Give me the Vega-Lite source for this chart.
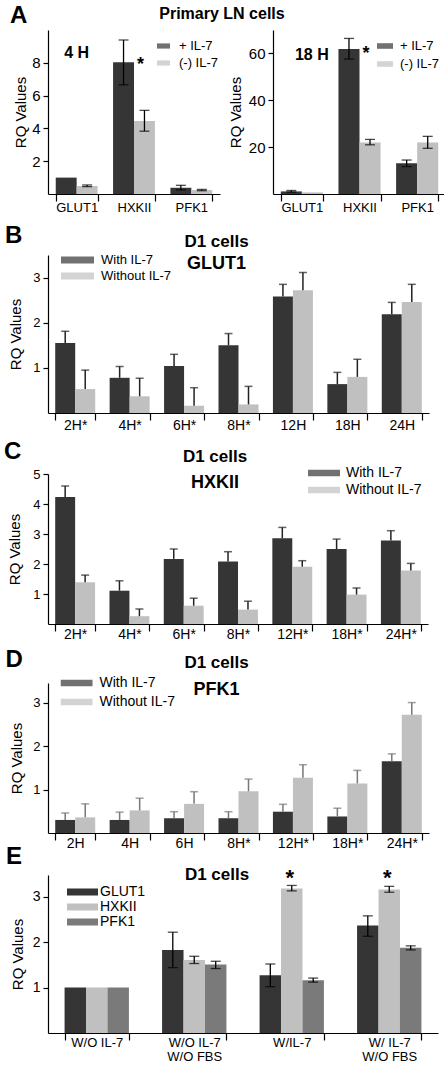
{
  "padding": {"left": 3, "top": 3, "right": 0, "bottom": 0},
  "spacing": 9,
  "align": "none",
  "resolve": {"scale": {"color": "independent", "xOffset": "independent"}, "legend": {"color": "independent"}},
  "config": {
    "font": "Liberation Sans",
    "view": {"stroke": null},
    "bar": {"stroke": null},
    "axis": {"grid": false, "labelOverlap": false, "domainColor": "black", "tickColor": "black", "labelColor": "black", "titleColor": "black", "labelFont": "Liberation Sans", "titleFont": "Liberation Sans", "titleFontWeight": "normal", "titleFontSize": 15, "labelFontSize": 13, "domainWidth": 1.2, "tickWidth": 1.2},
    "axisX": {"tickBand": "extent", "labelAngle": 0, "tickSize": 7},
    "axisY": {"tickSize": 5, "labelPadding": 3},
    "legend": {"labelFont": "Liberation Sans", "labelColor": "black", "padding": 0, "symbolStrokeWidth": 0, "labelFontSize": 13},
    "title": {"font": "Liberation Sans", "fontWeight": "bold", "color": "black", "fontSize": 17, "subtitleFont": "Liberation Sans", "subtitleFontWeight": "bold", "subtitleColor": "black", "subtitleFontSize": 18}
  },
  "datasets": {
    "a4": [
      {"gene": "GLUT1", "treat": "+ IL-7", "v": 1.0},
      {"gene": "GLUT1", "treat": "(-) IL-7", "v": 0.49, "lo": 0.45, "hi": 0.55},
      {"gene": "HXKII", "treat": "+ IL-7", "v": 8.04, "lo": 6.66, "hi": 9.39},
      {"gene": "HXKII", "treat": "(-) IL-7", "v": 4.45, "lo": 3.83, "hi": 5.1},
      {"gene": "PFK1", "treat": "+ IL-7", "v": 0.38, "lo": 0.25, "hi": 0.53},
      {"gene": "PFK1", "treat": "(-) IL-7", "v": 0.24, "lo": 0.2, "hi": 0.28}
    ],
    "a4notes": [
      {"gene": "HXKII", "treat": "(-) IL-7", "y": 8.44, "label": "*"}
    ],
    "a4time": [
      {"gene": "GLUT1", "y": 8.29, "label": "4 H"}
    ],
    "a18": [
      {"gene": "GLUT1", "treat": "+ IL-7", "v": 1.1, "lo": 0.8, "hi": 1.5},
      {"gene": "GLUT1", "treat": "(-) IL-7", "v": 0.7},
      {"gene": "HXKII", "treat": "+ IL-7", "v": 61.9, "lo": 57.6, "hi": 66.4},
      {"gene": "HXKII", "treat": "(-) IL-7", "v": 22.0, "lo": 21.0, "hi": 23.3},
      {"gene": "PFK1", "treat": "+ IL-7", "v": 13.1, "lo": 11.7, "hi": 14.5},
      {"gene": "PFK1", "treat": "(-) IL-7", "v": 22.0, "lo": 19.5, "hi": 24.6}
    ],
    "a18notes": [
      {"gene": "HXKII", "treat": "(-) IL-7", "y": 63.4, "label": "*"}
    ],
    "a18time": [
      {"gene": "GLUT1", "y": 57.2, "label": "18 H"}
    ],
    "b": [
      {"time": "2H*", "treat": "With IL-7", "v": 1.55, "hi": 1.81},
      {"time": "2H*", "treat": "Without IL-7", "v": 0.53, "hi": 0.95},
      {"time": "4H*", "treat": "With IL-7", "v": 0.78, "hi": 1.03},
      {"time": "4H*", "treat": "Without IL-7", "v": 0.37, "hi": 0.77},
      {"time": "6H*", "treat": "With IL-7", "v": 1.04, "hi": 1.3},
      {"time": "6H*", "treat": "Without IL-7", "v": 0.16, "hi": 0.56},
      {"time": "8H*", "treat": "With IL-7", "v": 1.5, "hi": 1.76},
      {"time": "8H*", "treat": "Without IL-7", "v": 0.19, "hi": 0.59},
      {"time": "12H", "treat": "With IL-7", "v": 2.58, "hi": 2.85},
      {"time": "12H", "treat": "Without IL-7", "v": 2.72, "hi": 3.11},
      {"time": "18H", "treat": "With IL-7", "v": 0.64, "hi": 0.9},
      {"time": "18H", "treat": "Without IL-7", "v": 0.8, "hi": 1.19},
      {"time": "24H", "treat": "With IL-7", "v": 2.19, "hi": 2.45},
      {"time": "24H", "treat": "Without IL-7", "v": 2.46, "hi": 2.85}
    ],
    "c": [
      {"time": "2H*", "treat": "With IL-7", "v": 4.23, "hi": 4.6},
      {"time": "2H*", "treat": "Without IL-7", "v": 1.39, "hi": 1.63},
      {"time": "4H*", "treat": "With IL-7", "v": 1.11, "hi": 1.44},
      {"time": "4H*", "treat": "Without IL-7", "v": 0.26, "hi": 0.5},
      {"time": "6H*", "treat": "With IL-7", "v": 2.17, "hi": 2.5},
      {"time": "6H*", "treat": "Without IL-7", "v": 0.61, "hi": 0.86},
      {"time": "8H*", "treat": "With IL-7", "v": 2.08, "hi": 2.41},
      {"time": "8H*", "treat": "Without IL-7", "v": 0.48, "hi": 0.76},
      {"time": "12H*", "treat": "With IL-7", "v": 2.86, "hi": 3.22},
      {"time": "12H*", "treat": "Without IL-7", "v": 1.91, "hi": 2.11},
      {"time": "18H*", "treat": "With IL-7", "v": 2.5, "hi": 2.83},
      {"time": "18H*", "treat": "Without IL-7", "v": 0.98, "hi": 1.2},
      {"time": "24H*", "treat": "With IL-7", "v": 2.78, "hi": 3.11},
      {"time": "24H*", "treat": "Without IL-7", "v": 1.78, "hi": 2.02}
    ],
    "d": [
      {"time": "2H", "treat": "With IL-7", "v": 0.3, "hi": 0.46},
      {"time": "2H", "treat": "Without IL-7", "v": 0.36, "hi": 0.67},
      {"time": "4H", "treat": "With IL-7", "v": 0.3, "hi": 0.48},
      {"time": "4H", "treat": "Without IL-7", "v": 0.52, "hi": 0.8},
      {"time": "6H", "treat": "With IL-7", "v": 0.34, "hi": 0.49},
      {"time": "6H", "treat": "Without IL-7", "v": 0.67, "hi": 0.95},
      {"time": "8H*", "treat": "With IL-7", "v": 0.34, "hi": 0.49},
      {"time": "8H*", "treat": "Without IL-7", "v": 0.96, "hi": 1.24},
      {"time": "12H*", "treat": "With IL-7", "v": 0.49, "hi": 0.66},
      {"time": "12H*", "treat": "Without IL-7", "v": 1.27, "hi": 1.57},
      {"time": "18H*", "treat": "With IL-7", "v": 0.38, "hi": 0.57},
      {"time": "18H*", "treat": "Without IL-7", "v": 1.14, "hi": 1.44},
      {"time": "24H*", "treat": "With IL-7", "v": 1.65, "hi": 1.82},
      {"time": "24H*", "treat": "Without IL-7", "v": 2.72, "hi": 3.0}
    ],
    "e": [
      {"cond": "W/O IL-7", "gene": "GLUT1", "v": 1.0},
      {"cond": "W/O IL-7", "gene": "HXKII", "v": 1.0},
      {"cond": "W/O IL-7", "gene": "PFK1", "v": 1.0},
      {"cond": "W/O IL-7\nW/O FBS", "gene": "GLUT1", "v": 1.83, "lo": 1.44, "hi": 2.22},
      {"cond": "W/O IL-7\nW/O FBS", "gene": "HXKII", "v": 1.61, "lo": 1.53, "hi": 1.69},
      {"cond": "W/O IL-7\nW/O FBS", "gene": "PFK1", "v": 1.51, "lo": 1.42, "hi": 1.58},
      {"cond": "W/IL-7", "gene": "GLUT1", "v": 1.27, "lo": 1.02, "hi": 1.52},
      {"cond": "W/IL-7", "gene": "HXKII", "v": 3.18, "lo": 3.13, "hi": 3.25},
      {"cond": "W/IL-7", "gene": "PFK1", "v": 1.16, "lo": 1.12, "hi": 1.21},
      {"cond": "W/ IL-7\nW/O FBS", "gene": "GLUT1", "v": 2.37, "lo": 2.13, "hi": 2.58},
      {"cond": "W/ IL-7\nW/O FBS", "gene": "HXKII", "v": 3.16, "lo": 3.1, "hi": 3.23},
      {"cond": "W/ IL-7\nW/O FBS", "gene": "PFK1", "v": 1.88, "lo": 1.83, "hi": 1.92}
    ],
    "enotes": [
      {"cond": "W/IL-7", "gene": "HXKII", "y": 3.63, "label": "*"},
      {"cond": "W/ IL-7\nW/O FBS", "gene": "HXKII", "y": 3.63, "label": "*"}
    ]
  },
  "vconcat": [
    {
      "title": {"text": "A", "anchor": "start", "frame": "bounds", "fontSize": 24, "offset": 0, "dx": -4, "dy": 21.6},
      "align": "none",
      "resolve": {"scale": {"color": "independent", "xOffset": "independent"}, "legend": {"color": "independent"}},
      "vconcat": [
        {
          "title": {"text": "Primary LN cells", "anchor": "middle", "frame": "bounds", "fontSize": 16, "offset": 8, "dx": -8},
          "spacing": 8,
          "resolve": {"scale": {"color": "independent", "xOffset": "independent"}, "legend": {"color": "independent"}},
          "hconcat": [
            {
              "width": 172, "height": 164,
              "layer": [
                {
                  "data": {"name": "a4"},
                  "mark": {"type": "bar"},
                  "encoding": {
                    "x": {"field": "gene", "type": "nominal", "sort": ["GLUT1", "HXKII", "PFK1"], "title": null, "scale": {"paddingInner": 0.27, "paddingOuter": 0.135}, "axis": {"labelFontSize": 13, "labelPadding": 0}},
                    "xOffset": {"field": "treat", "type": "nominal", "sort": ["+ IL-7", "(-) IL-7"]},
                    "y": {"field": "v", "type": "quantitative", "title": "RQ Values", "scale": {"domain": [0, 10], "nice": false}, "axis": {"values": [2, 4, 6, 8], "labelFontSize": 15, "titlePadding": 2.7}},
                    "color": {"field": "treat", "type": "nominal", "scale": {"domain": ["+ IL-7", "(-) IL-7"], "range": ["#353535", "#c0c0c0"]}, "legend": {"orient": "none", "legendX": 109, "legendY": 10, "title": null, "symbolType": "M-1,-0.4H1V0.4H-1Z", "symbolSize": 169, "clipHeight": 12, "rowPadding": 4, "labelOffset": 9, "labelFontSize": 13, "symbolOpacity": 0.7}}
                  }
                },
                {
                  "data": {"name": "a4"},
                  "mark": {"type": "rule", "color": "black", "strokeWidth": 1.3},
                  "encoding": {
                    "x": {"field": "gene", "type": "nominal", "sort": ["GLUT1", "HXKII", "PFK1"], "title": null},
                    "xOffset": {"field": "treat", "type": "nominal", "sort": ["+ IL-7", "(-) IL-7"]},
                    "y": {"field": "lo", "type": "quantitative", "title": "RQ Values"},
                    "y2": {"field": "hi"}
                  }
                },
                {
                  "data": {"name": "a4"},
                  "mark": {"type": "tick", "color": "black", "size": 10, "thickness": 1.3},
                  "encoding": {
                    "x": {"field": "gene", "type": "nominal", "sort": ["GLUT1", "HXKII", "PFK1"], "title": null},
                    "xOffset": {"field": "treat", "type": "nominal", "sort": ["+ IL-7", "(-) IL-7"]},
                    "y": {"field": "hi", "type": "quantitative", "title": "RQ Values"}
                  }
                },
                {
                  "data": {"name": "a4"},
                  "mark": {"type": "tick", "color": "black", "size": 10, "thickness": 1.3},
                  "encoding": {
                    "x": {"field": "gene", "type": "nominal", "sort": ["GLUT1", "HXKII", "PFK1"], "title": null},
                    "xOffset": {"field": "treat", "type": "nominal", "sort": ["+ IL-7", "(-) IL-7"]},
                    "y": {"field": "lo", "type": "quantitative", "title": "RQ Values"}
                  }
                },
                {
                  "data": {"name": "a4notes"},
                  "mark": {"type": "text", "fontSize": 18, "fontWeight": "bold", "baseline": "top", "align": "center", "dx": -4, "color": "black"},
                  "encoding": {
                    "x": {"field": "gene", "type": "nominal", "sort": ["GLUT1", "HXKII", "PFK1"], "title": null},
                    "xOffset": {"field": "treat", "type": "nominal", "sort": ["+ IL-7", "(-) IL-7"]},
                    "y": {"field": "y", "type": "quantitative", "title": "RQ Values"},
                    "text": {"field": "label"}
                  }
                },
                {
                  "data": {"name": "a4time"},
                  "mark": {"type": "text", "fontSize": 16, "fontWeight": "bold", "baseline": "alphabetic", "align": "center", "color": "black"},
                  "encoding": {
                    "x": {"field": "gene", "type": "nominal", "sort": ["GLUT1", "HXKII", "PFK1"], "title": null},
                    "y": {"field": "y", "type": "quantitative", "title": "RQ Values"},
                    "text": {"field": "label"}
                  }
                }
              ]
            },
            {
              "width": 173, "height": 164,
              "layer": [
                {
                  "data": {"name": "a18"},
                  "mark": {"type": "bar"},
                  "encoding": {
                    "x": {"field": "gene", "type": "nominal", "sort": ["GLUT1", "HXKII", "PFK1"], "title": null, "scale": {"paddingInner": 0.27, "paddingOuter": 0.135}, "axis": {"labelFontSize": 13, "labelPadding": 0}},
                    "xOffset": {"field": "treat", "type": "nominal", "sort": ["+ IL-7", "(-) IL-7"]},
                    "y": {"field": "v", "type": "quantitative", "title": "RQ Values", "scale": {"domain": [0, 70], "nice": false}, "axis": {"values": [20, 40, 60], "labelFontSize": 15, "titlePadding": 5}},
                    "color": {"field": "treat", "type": "nominal", "scale": {"domain": ["+ IL-7", "(-) IL-7"], "range": ["#353535", "#c0c0c0"]}, "legend": {"orient": "none", "legendX": 104, "legendY": 10, "title": null, "symbolType": "M-1,-0.35H1V0.35H-1Z", "symbolSize": 256, "clipHeight": 12, "rowPadding": 5, "labelOffset": 7, "labelFontSize": 13, "symbolOpacity": 0.7}}
                  }
                },
                {
                  "data": {"name": "a18"},
                  "mark": {"type": "rule", "color": "black", "strokeWidth": 1.3},
                  "encoding": {
                    "x": {"field": "gene", "type": "nominal", "sort": ["GLUT1", "HXKII", "PFK1"], "title": null},
                    "xOffset": {"field": "treat", "type": "nominal", "sort": ["+ IL-7", "(-) IL-7"]},
                    "y": {"field": "lo", "type": "quantitative", "title": "RQ Values"},
                    "y2": {"field": "hi"}
                  }
                },
                {
                  "data": {"name": "a18"},
                  "mark": {"type": "tick", "color": "black", "size": 10, "thickness": 1.3},
                  "encoding": {
                    "x": {"field": "gene", "type": "nominal", "sort": ["GLUT1", "HXKII", "PFK1"], "title": null},
                    "xOffset": {"field": "treat", "type": "nominal", "sort": ["+ IL-7", "(-) IL-7"]},
                    "y": {"field": "hi", "type": "quantitative", "title": "RQ Values"}
                  }
                },
                {
                  "data": {"name": "a18"},
                  "mark": {"type": "tick", "color": "black", "size": 10, "thickness": 1.3},
                  "encoding": {
                    "x": {"field": "gene", "type": "nominal", "sort": ["GLUT1", "HXKII", "PFK1"], "title": null},
                    "xOffset": {"field": "treat", "type": "nominal", "sort": ["+ IL-7", "(-) IL-7"]},
                    "y": {"field": "lo", "type": "quantitative", "title": "RQ Values"}
                  }
                },
                {
                  "data": {"name": "a18notes"},
                  "mark": {"type": "text", "fontSize": 18, "fontWeight": "bold", "baseline": "top", "align": "center", "dx": -4, "color": "black"},
                  "encoding": {
                    "x": {"field": "gene", "type": "nominal", "sort": ["GLUT1", "HXKII", "PFK1"], "title": null},
                    "xOffset": {"field": "treat", "type": "nominal", "sort": ["+ IL-7", "(-) IL-7"]},
                    "y": {"field": "y", "type": "quantitative", "title": "RQ Values"},
                    "text": {"field": "label"}
                  }
                },
                {
                  "data": {"name": "a18time"},
                  "mark": {"type": "text", "fontSize": 16, "fontWeight": "bold", "baseline": "alphabetic", "align": "center", "dx": 10, "color": "black"},
                  "encoding": {
                    "x": {"field": "gene", "type": "nominal", "sort": ["GLUT1", "HXKII", "PFK1"], "title": null},
                    "y": {"field": "y", "type": "quantitative", "title": "RQ Values"},
                    "text": {"field": "label"}
                  }
                }
              ]
            }
          ]
        }
      ]
    },
    {
      "spacing": 7,
      "align": "none",
      "resolve": {"scale": {"color": "independent", "xOffset": "independent"}, "legend": {"color": "independent"}},
      "vconcat": [
        {
          "title": {"text": "B", "anchor": "start", "frame": "bounds", "fontSize": 24, "offset": 0, "dx": -4, "dy": 15},
          "align": "none",
          "resolve": {"scale": {"color": "independent", "xOffset": "independent"}, "legend": {"color": "independent"}},
          "vconcat": [
            {
              "width": 381, "height": 158,
              "title": {"text": "D1 cells", "subtitle": "GLUT1", "frame": "group", "anchor": "middle", "dx": -22, "offset": -20.1, "subtitlePadding": 4},
              "data": {"name": "b"},
              "layer": [
                {
                  "mark": {"type": "bar"},
                  "encoding": {
                    "x": {"field": "time", "type": "nominal", "sort": ["2H*", "4H*", "6H*", "8H*", "12H", "18H", "24H"], "title": null, "scale": {"paddingInner": 0.265, "paddingOuter": 0.1325}, "axis": {"labelPadding": -2, "labelFontSize": 14}},
                    "xOffset": {"field": "treat", "type": "nominal", "sort": ["With IL-7", "Without IL-7"]},
                    "y": {"field": "v", "type": "quantitative", "title": "RQ Values", "scale": {"domain": [0, 3.5], "nice": false}, "axis": {"values": [1, 2, 3], "titlePadding": 8.8}},
                    "color": {"field": "treat", "type": "nominal", "scale": {"domain": ["With IL-7", "Without IL-7"], "range": ["#353535", "#c0c0c0"]}, "legend": {"orient": "none", "legendX": 13, "legendY": -1.5, "title": null, "symbolType": "M-1,-0.21H1V0.21H-1Z", "symbolSize": 1089, "clipHeight": 13, "rowPadding": 2, "labelOffset": 7, "labelFontSize": 13, "symbolOpacity": 0.7}}
                  }
                },
                {
                  "mark": {"type": "rule", "color": "#222222", "strokeWidth": 1.5},
                  "encoding": {
                    "x": {"field": "time", "type": "nominal", "sort": ["2H*", "4H*", "6H*", "8H*", "12H", "18H", "24H"], "title": null},
                    "xOffset": {"field": "treat", "type": "nominal", "sort": ["With IL-7", "Without IL-7"]},
                    "y": {"field": "v", "type": "quantitative", "title": "RQ Values"},
                    "y2": {"field": "hi"}
                  }
                },
                {
                  "mark": {"type": "tick", "color": "#222222", "size": 8, "thickness": 1.5},
                  "encoding": {
                    "x": {"field": "time", "type": "nominal", "sort": ["2H*", "4H*", "6H*", "8H*", "12H", "18H", "24H"], "title": null},
                    "xOffset": {"field": "treat", "type": "nominal", "sort": ["With IL-7", "Without IL-7"]},
                    "y": {"field": "hi", "type": "quantitative", "title": "RQ Values"}
                  }
                }
              ]
            }
          ]
        },
        {
          "spacing": 6,
          "align": "none",
          "resolve": {"scale": {"color": "independent", "xOffset": "independent"}, "legend": {"color": "independent"}},
          "vconcat": [
            {
              "title": {"text": "C", "anchor": "start", "frame": "bounds", "fontSize": 24, "offset": 0, "dx": -4, "dy": 16.1},
              "align": "none",
              "resolve": {"scale": {"color": "independent", "xOffset": "independent"}, "legend": {"color": "independent"}},
              "vconcat": [
                {
                  "width": 380, "height": 150,
                  "title": {"text": "D1 cells", "subtitle": "HXKII", "frame": "group", "anchor": "middle", "dx": -23, "offset": -26.1, "subtitlePadding": 8},
                  "data": {"name": "c"},
                  "layer": [
                    {
                      "mark": {"type": "bar"},
                      "encoding": {
                        "x": {"field": "time", "type": "nominal", "sort": ["2H*", "4H*", "6H*", "8H*", "12H*", "18H*", "24H*"], "title": null, "scale": {"paddingInner": 0.265, "paddingOuter": 0.1325}, "axis": {"labelPadding": -4, "labelFontSize": 14}},
                        "xOffset": {"field": "treat", "type": "nominal", "sort": ["With IL-7", "Without IL-7"]},
                        "y": {"field": "v", "type": "quantitative", "title": "RQ Values", "scale": {"domain": [0, 5], "nice": false}, "axis": {"values": [1, 2, 3, 4, 5], "tickCount": 8, "format": "d", "titlePadding": 9.8}},
                        "color": {"field": "treat", "type": "nominal", "scale": {"domain": ["With IL-7", "Without IL-7"], "range": ["#353535", "#c0c0c0"]}, "legend": {"orient": "none", "legendX": 260, "legendY": -7.5, "title": null, "symbolType": "M-1,-0.21H1V0.21H-1Z", "symbolSize": 1024, "clipHeight": 13, "rowPadding": 2, "labelOffset": 6, "labelFontSize": 14, "symbolOpacity": 0.7}}
                      }
                    },
                    {
                      "mark": {"type": "rule", "color": "#222222", "strokeWidth": 1.5},
                      "encoding": {
                        "x": {"field": "time", "type": "nominal", "sort": ["2H*", "4H*", "6H*", "8H*", "12H*", "18H*", "24H*"], "title": null},
                        "xOffset": {"field": "treat", "type": "nominal", "sort": ["With IL-7", "Without IL-7"]},
                        "y": {"field": "v", "type": "quantitative", "title": "RQ Values"},
                        "y2": {"field": "hi"}
                      }
                    },
                    {
                      "mark": {"type": "tick", "color": "#222222", "size": 8, "thickness": 1.5},
                      "encoding": {
                        "x": {"field": "time", "type": "nominal", "sort": ["2H*", "4H*", "6H*", "8H*", "12H*", "18H*", "24H*"], "title": null},
                        "xOffset": {"field": "treat", "type": "nominal", "sort": ["With IL-7", "Without IL-7"]},
                        "y": {"field": "hi", "type": "quantitative", "title": "RQ Values"}
                      }
                    }
                  ]
                }
              ]
            },
            {
              "spacing": -6,
              "align": "none",
              "resolve": {"scale": {"color": "independent", "xOffset": "independent"}, "legend": {"color": "independent"}},
              "vconcat": [
                {
                  "title": {"text": "D", "anchor": "start", "frame": "bounds", "fontSize": 24, "offset": 0, "dx": -4, "dy": 18.1},
                  "align": "none",
                  "resolve": {"scale": {"color": "independent", "xOffset": "independent"}, "legend": {"color": "independent"}},
                  "vconcat": [
                    {
                      "width": 381, "height": 150,
                      "title": {"text": "D1 cells", "subtitle": "PFK1", "frame": "group", "anchor": "middle", "dx": -22, "offset": -23.1, "subtitlePadding": 9},
                      "data": {"name": "d"},
                      "layer": [
                        {
                          "mark": {"type": "bar"},
                          "encoding": {
                            "x": {"field": "time", "type": "nominal", "sort": ["2H", "4H", "6H", "8H*", "12H*", "18H*", "24H*"], "title": null, "scale": {"paddingInner": 0.265, "paddingOuter": 0.1325}, "axis": {"labelPadding": -3.5, "labelFontSize": 14}},
                            "xOffset": {"field": "treat", "type": "nominal", "sort": ["With IL-7", "Without IL-7"]},
                            "y": {"field": "v", "type": "quantitative", "title": "RQ Values", "scale": {"domain": [0, 3.45], "nice": false}, "axis": {"values": [1, 2, 3], "titlePadding": 8.3}},
                            "color": {"field": "treat", "type": "nominal", "scale": {"domain": ["With IL-7", "Without IL-7"], "range": ["#353535", "#c0c0c0"]}, "legend": {"orient": "none", "legendX": 12.5, "legendY": -6.5, "title": null, "symbolType": "M-1,-0.21H1V0.21H-1Z", "symbolSize": 1024, "clipHeight": 13, "rowPadding": 4, "labelOffset": 7, "labelFontSize": 14, "symbolOpacity": 0.7}}
                          }
                        },
                        {
                          "mark": {"type": "rule", "color": "#777777", "strokeWidth": 1.5},
                          "encoding": {
                            "x": {"field": "time", "type": "nominal", "sort": ["2H", "4H", "6H", "8H*", "12H*", "18H*", "24H*"], "title": null},
                            "xOffset": {"field": "treat", "type": "nominal", "sort": ["With IL-7", "Without IL-7"]},
                            "y": {"field": "v", "type": "quantitative", "title": "RQ Values"},
                            "y2": {"field": "hi"}
                          }
                        },
                        {
                          "mark": {"type": "tick", "color": "#777777", "size": 8, "thickness": 1.5},
                          "encoding": {
                            "x": {"field": "time", "type": "nominal", "sort": ["2H", "4H", "6H", "8H*", "12H*", "18H*", "24H*"], "title": null},
                            "xOffset": {"field": "treat", "type": "nominal", "sort": ["With IL-7", "Without IL-7"]},
                            "y": {"field": "hi", "type": "quantitative", "title": "RQ Values"}
                          }
                        }
                      ]
                    }
                  ]
                },
                {
                  "title": {"text": "E", "anchor": "start", "frame": "bounds", "fontSize": 24, "offset": 0, "dx": -4, "dy": 3.1},
                  "align": "none",
                  "resolve": {"scale": {"color": "independent", "xOffset": "independent"}, "legend": {"color": "independent"}},
                  "vconcat": [
                    {
                      "width": 390, "height": 158,
                      "title": {"text": "D1 cells", "frame": "group", "anchor": "middle", "dx": -26, "offset": -17.2},
                      "layer": [
                        {
                          "data": {"name": "e"},
                          "mark": {"type": "bar"},
                          "encoding": {
                            "x": {"field": "cond", "type": "nominal", "sort": ["W/O IL-7", "W/O IL-7\nW/O FBS", "W/IL-7", "W/ IL-7\nW/O FBS"], "title": null, "scale": {"paddingInner": 0.34, "paddingOuter": 0.17}, "axis": {"labelPadding": -3.5, "labelFontSize": 13, "labelExpr": "split(datum.label, '\\n')", "labelLineHeight": 14}},
                            "xOffset": {"field": "gene", "type": "nominal", "sort": ["GLUT1", "HXKII", "PFK1"]},
                            "y": {"field": "v", "type": "quantitative", "title": "RQ Values", "scale": {"domain": [0, 3.48], "nice": false}, "axis": {"values": [1, 2, 3], "labelFontSize": 14, "titlePadding": 7.2}},
                            "color": {"field": "gene", "type": "nominal", "scale": {"domain": ["GLUT1", "HXKII", "PFK1"], "range": ["#353535", "#c0c0c0", "#7a7a7a"]}, "legend": {"orient": "none", "legendX": 19, "legendY": 10.5, "title": null, "symbolType": "M-1,-0.23H1V0.23H-1Z", "symbolSize": 961, "clipHeight": 13, "rowPadding": 0, "labelOffset": 2, "labelFontSize": 14}}
                          }
                        },
                        {
                          "data": {"name": "e"},
                          "mark": {"type": "rule", "color": "black", "strokeWidth": 1.3},
                          "encoding": {
                            "x": {"field": "cond", "type": "nominal", "sort": ["W/O IL-7", "W/O IL-7\nW/O FBS", "W/IL-7", "W/ IL-7\nW/O FBS"], "title": null},
                            "xOffset": {"field": "gene", "type": "nominal", "sort": ["GLUT1", "HXKII", "PFK1"]},
                            "y": {"field": "lo", "type": "quantitative", "title": "RQ Values"},
                            "y2": {"field": "hi"}
                          }
                        },
                        {
                          "data": {"name": "e"},
                          "mark": {"type": "tick", "color": "black", "size": 10, "thickness": 1.3},
                          "encoding": {
                            "x": {"field": "cond", "type": "nominal", "sort": ["W/O IL-7", "W/O IL-7\nW/O FBS", "W/IL-7", "W/ IL-7\nW/O FBS"], "title": null},
                            "xOffset": {"field": "gene", "type": "nominal", "sort": ["GLUT1", "HXKII", "PFK1"]},
                            "y": {"field": "hi", "type": "quantitative", "title": "RQ Values"}
                          }
                        },
                        {
                          "data": {"name": "e"},
                          "mark": {"type": "tick", "color": "black", "size": 10, "thickness": 1.3},
                          "encoding": {
                            "x": {"field": "cond", "type": "nominal", "sort": ["W/O IL-7", "W/O IL-7\nW/O FBS", "W/IL-7", "W/ IL-7\nW/O FBS"], "title": null},
                            "xOffset": {"field": "gene", "type": "nominal", "sort": ["GLUT1", "HXKII", "PFK1"]},
                            "y": {"field": "lo", "type": "quantitative", "title": "RQ Values"}
                          }
                        },
                        {
                          "data": {"name": "enotes"},
                          "mark": {"type": "text", "fontSize": 22, "fontWeight": "bold", "baseline": "top", "align": "center", "dx": -2, "color": "black"},
                          "encoding": {
                            "x": {"field": "cond", "type": "nominal", "sort": ["W/O IL-7", "W/O IL-7\nW/O FBS", "W/IL-7", "W/ IL-7\nW/O FBS"], "title": null},
                            "xOffset": {"field": "gene", "type": "nominal", "sort": ["GLUT1", "HXKII", "PFK1"]},
                            "y": {"field": "y", "type": "quantitative", "title": "RQ Values"},
                            "text": {"field": "label"}
                          }
                        }
                      ]
                    }
                  ]
                }
              ]
            }
          ]
        }
      ]
    }
  ]
}
